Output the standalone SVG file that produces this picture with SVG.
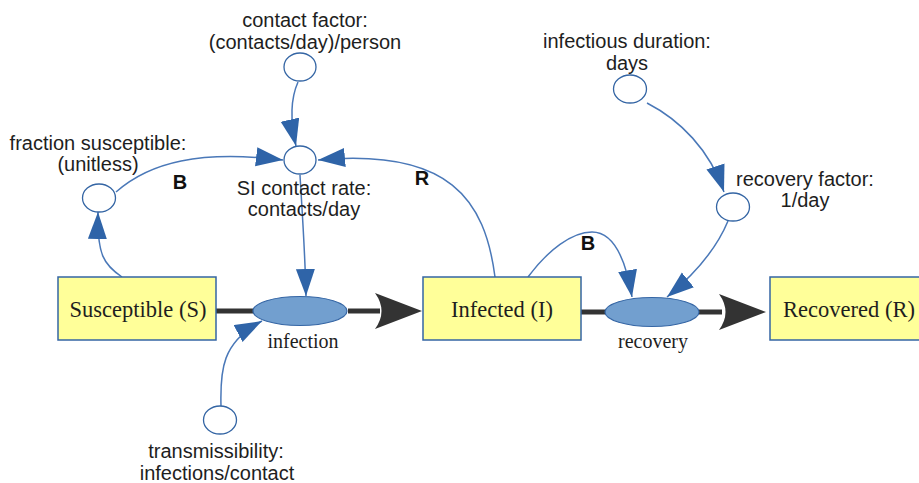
<svg xmlns="http://www.w3.org/2000/svg" width="919" height="483" viewBox="0 0 919 483">
  <style>
    .stock { fill: #ffff99; stroke: #3465a4; stroke-width: 1.5; }
    .valve { fill: #729fcf; stroke: #3465a4; stroke-width: 1.2; }
    .aux { fill: #ffffff; stroke: #3465a4; stroke-width: 1.3; }
    .flow { stroke: #333333; stroke-width: 5; fill: none; }
    .flowhead { fill: #333333; }
    .link { stroke: #4a78b8; stroke-width: 1.5; fill: none; marker-end: url(#linkArrow); }
    .lbl { font-family: "Liberation Sans", Arial, sans-serif; font-size: 20px; fill: #1e1e1e; text-anchor: middle; }
    .stocklbl { font-family: "Liberation Serif", "Times New Roman", serif; font-size: 22.5px; fill: #1e1e1e; text-anchor: middle; }
    .flowlbl { font-family: "Liberation Serif", "Times New Roman", serif; font-size: 20px; fill: #1e1e1e; text-anchor: middle; }
    .loop { font-family: "Liberation Sans", Arial, sans-serif; font-size: 20px; font-weight: bold; fill: #111111; text-anchor: middle; }
  </style>
  <defs>
    <marker id="linkArrow" markerUnits="userSpaceOnUse" markerWidth="30" markerHeight="20" refX="27" refY="9.5" orient="auto">
      <path d="M0,0 L27,9.5 L0,19 Z" fill="#2f64a8"/>
    </marker>
  </defs>

  <!-- material flows -->
  <g id="flows">
    <path class="flow" d="M216,311 H254"/>
    <path class="flow" d="M348,311 H380"/>
    <path class="flowhead" d="M422,311 L375,293 Q388,311 375,329 Z"/>
    <path class="flow" d="M581,312 H606"/>
    <path class="flow" d="M699,312 H722"/>
    <path class="flowhead" d="M766,312 L719,294 Q732,312 719,330 Z"/>
  </g>

  <!-- information links -->
  <g id="connectors">
    <path class="link" d="M298,82 C290,100 290,120 296,146"/>
    <path class="link" d="M116,192 C150,162 200,150 283,160"/>
    <path class="link" d="M495,277 C485,200 450,148 318,160"/>
    <path class="link" d="M122,277 C104,265 97,255 98,212"/>
    <path class="link" d="M300,175 C302,210 305,250 306,296"/>
    <path class="link" d="M221,406 C220,370 222,342 262,321"/>
    <path class="link" d="M528,277 C548,250 572,232 592,232 C612,232 625,255 632,297"/>
    <path class="link" d="M728,221 C718,245 700,270 667,297"/>
    <path class="link" d="M647,103 C680,120 710,150 724,192"/>
  </g>

  <g id="susceptible">
    <rect class="stock" x="58" y="277" width="158" height="63"/>
    <text class="stocklbl" x="138" y="317">Susceptible (S)</text>
  </g>
  <g id="infected">
    <rect class="stock" x="423" y="277" width="158" height="63"/>
    <text class="stocklbl" x="502" y="317">Infected (I)</text>
  </g>
  <g id="recovered">
    <rect class="stock" x="770" y="277" width="158" height="63"/>
    <text class="stocklbl" x="849" y="317">Recovered (R)</text>
  </g>

  <g id="infection">
    <ellipse class="valve" cx="300" cy="311" rx="47" ry="14.5"/>
    <text class="flowlbl" x="303" y="348">infection</text>
  </g>
  <g id="recovery">
    <ellipse class="valve" cx="652" cy="312" rx="47" ry="14.5"/>
    <text class="flowlbl" x="653" y="348">recovery</text>
  </g>

  <g id="contact-factor">
    <ellipse class="aux" cx="300" cy="67" rx="16" ry="14"/>
    <text class="lbl" x="305" y="27">contact factor:</text>
    <text class="lbl" x="305" y="49">(contacts/day)/person</text>
  </g>
  <g id="si-contact-rate">
    <ellipse class="aux" cx="300" cy="160" rx="16" ry="14"/>
    <text class="lbl" x="304" y="195">SI contact rate:</text>
    <text class="lbl" x="304" y="216">contacts/day</text>
  </g>
  <g id="fraction-susceptible">
    <ellipse class="aux" cx="99" cy="198" rx="16.5" ry="14"/>
    <text class="lbl" x="98" y="150">fraction susceptible:</text>
    <text class="lbl" x="98" y="171">(unitless)</text>
  </g>
  <g id="transmissibility">
    <ellipse class="aux" cx="220" cy="420" rx="16.5" ry="14"/>
    <text class="lbl" x="216" y="458">transmissibility:</text>
    <text class="lbl" x="217" y="480">infections/contact</text>
  </g>
  <g id="infectious-duration">
    <ellipse class="aux" cx="630" cy="89" rx="16.5" ry="14"/>
    <text class="lbl" x="627" y="48">infectious duration:</text>
    <text class="lbl" x="627" y="70">days</text>
  </g>
  <g id="recovery-factor">
    <ellipse class="aux" cx="733" cy="207" rx="16.5" ry="14"/>
    <text class="lbl" x="805" y="186">recovery factor:</text>
    <text class="lbl" x="805" y="207">1/day</text>
  </g>

  <g id="loop-labels">
    <text class="loop" x="180" y="189">B</text>
    <text class="loop" x="422" y="185">R</text>
    <text class="loop" x="588" y="250">B</text>
  </g>
</svg>
